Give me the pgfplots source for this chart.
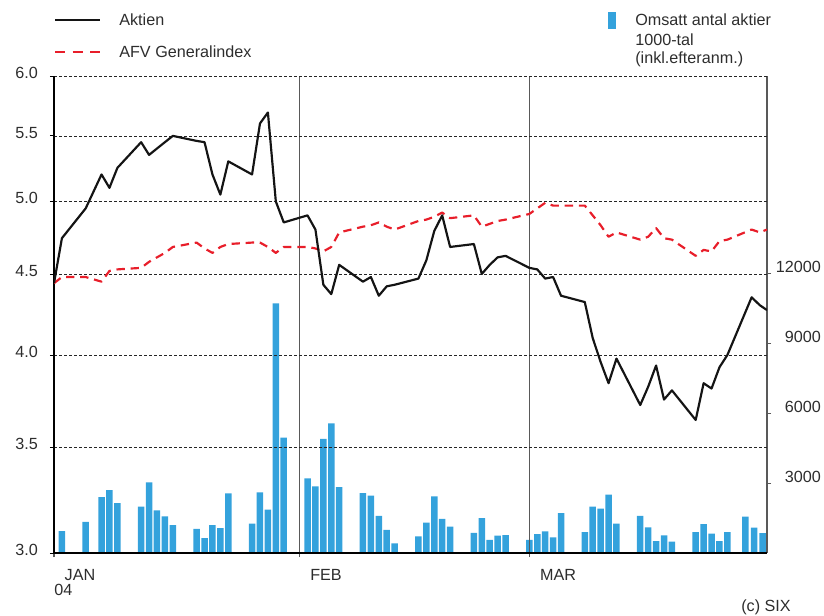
\documentclass[border=0pt]{standalone}
\usepackage{fontspec}
\setmainfont{Liberation Sans}
\usepackage{pgfplots}
\pgfplotsset{compat=1.18}
\definecolor{barblue}{RGB}{52,162,220}
\definecolor{idxred}{RGB}{232,30,42}
\definecolor{txt}{RGB}{45,45,45}
\begin{document}
\begin{tikzpicture}[font=\fontsize{9.7pt}{11.6pt}\selectfont, text=txt]
\useasboundingbox (0,0) rectangle (494.4pt,-369pt);
% ---- volume bars (right axis)
\begin{axis}[
  at={(32.4pt,-331.8pt)}, anchor=south west,
  width=427.8pt, height=286.2pt, scale only axis,
  xmin=0, xmax=90, ymin=0, ymax=20443,
  hide x axis, axis y line*=right,
  scaled y ticks=false,
  ytick={3000,6000,9000,12000}, yticklabels={3000,6000,9000,12000},
  /pgf/number format/assume math mode=true,
  tick align=outside, major tick length=2.5pt,
  y axis line style={black!65, line width=0.7pt},
  ytick style={black!65, line width=0.5pt},
  yticklabel style={anchor=east, xshift=33.3pt, yshift=3.5pt, font=\fontsize{9.7pt}{11.6pt}\selectfont, text=txt},
]
\addplot[ybar, bar width=0.82, bar shift=0pt, fill=barblue, draw=none] coordinates {
(1,940)(4,1330)(6,2390)(7,2700)(8,2140)(11,1990)(12,3030)(13,1830)(14,1570)(15,1200)
(18,1030)(19,640)(20,1190)(21,1070)(22,2560)(25,1260)(26,2600)(27,1860)(28,10700)(29,4940)
(32,3200)(33,2860)(34,4890)(35,5560)(36,2820)(39,2570)(40,2460)(41,1590)(42,990)(43,410)
(46,710)(47,1300)(48,2430)(49,1460)(50,1130)(53,860)(54,1490)(55,560)(56,740)(57,770)
(60,560)(61,810)(62,930)(63,670)(64,1710)(67,890)(68,1990)(69,1900)(70,2500)(71,1260)
(74,1590)(75,1100)(76,510)(77,760)(78,490)(81,890)(82,1240)(83,830)(84,510)(85,900)
(87.26,1556)(88.36,1086)(89.45,857)
};
\end{axis}
% ---- price lines (left log axis)
\begin{axis}[
  at={(32.4pt,-331.8pt)}, anchor=south west,
  width=427.8pt, height=286.2pt, scale only axis,
  xmin=0, xmax=90, ymode=log, ymin=3, ymax=6,
  axis x line*=bottom, axis y line*=left,
  xtick={0,31,60}, xticklabels={JAN,FEB,MAR},
  ytick={3,3.5,4,4.5,5,5.5,6}, yticklabels={3.0,3.5,4.0,4.5,5.0,5.5,6.0},
  /pgf/number format/assume math mode=true,
  xmajorgrids, ymajorgrids,
  x grid style={black!65, line width=0.7pt, solid},
  y grid style={black!85, line width=0.45pt, dash pattern=on 1.8pt off 1.2pt},
  tick align=outside, major tick length=2.5pt,
  axis line style={black, line width=0.7pt},
  xtick style={black!65, line width=0.7pt},
  ytick style={black, line width=0.5pt},
  tick label style={font=\fontsize{9.7pt}{11.6pt}\selectfont, text=txt},
  xticklabel style={anchor=north west, xshift=2.9pt, yshift=-4.1pt},
  yticklabel style={xshift=-3.6pt, yshift=2pt},
]
\addplot[idxred, line width=1.3pt, dash pattern=on 5pt off 3.5pt, line join=round] coordinates {
(0,4.44)(1,4.48)(4,4.48)(6,4.45)(7,4.52)(8,4.53)(11,4.54)(12,4.58)(13,4.61)(14,4.64)(15,4.68)
(18,4.71)(19,4.67)(20,4.64)(21,4.68)(22,4.70)(25,4.71)(26,4.71)(27,4.68)(28,4.64)(29,4.68)
(32,4.68)(33,4.67)(34,4.65)(35,4.68)(36,4.78)(39,4.82)(40,4.83)(41,4.85)(42,4.82)(43,4.80)
(46,4.86)(47,4.87)(48,4.89)(49,4.92)(50,4.88)(53,4.90)(54,4.82)(55,4.84)(56,4.86)(57,4.87)
(60,4.91)(61,4.95)(62,4.99)(63,4.97)(64,4.97)(67,4.97)(68,4.90)(69,4.83)(70,4.75)(71,4.78)
(74,4.73)(75,4.75)(76,4.81)(77,4.74)(78,4.73)(81,4.62)(82,4.66)(83,4.65)(84,4.72)(85,4.73)
(88.06,4.80)(89.1,4.78)(90,4.80)
};
\addplot[black!92, line width=1.3pt, line join=round] coordinates {
(0,4.44)(1,4.74)(4,4.95)(6,5.20)(7,5.10)(8,5.25)(11,5.45)(12,5.35)(13,5.40)(14,5.45)(15,5.50)
(18,5.46)(19,5.45)(20,5.20)(21,5.05)(22,5.30)(25,5.20)(26,5.60)(27,5.69)(28,5.00)(29,4.85)
(32,4.90)(33,4.80)(34,4.43)(35,4.37)(36,4.56)(39,4.45)(40,4.48)(41,4.36)(42,4.42)(43,4.43)
(46,4.47)(47,4.59)(48,4.79)(49,4.90)(50,4.68)(53,4.70)(54,4.50)(55,4.56)(56,4.61)(57,4.62)
(60,4.54)(61,4.53)(62,4.47)(63,4.48)(64,4.36)(67,4.32)(68,4.10)(69,3.96)(70,3.84)(71,3.98)
(74,3.72)(75,3.82)(76,3.94)(77,3.75)(78,3.80)(81,3.64)(82,3.84)(83,3.81)(84,3.93)(85,4.00)
(88.06,4.35)(89.1,4.30)(90,4.27)
};
\end{axis}
% ---- legend and notes (pixel coordinates of the 824x615 layout)
\begin{scope}[x=0.6pt, y=-0.6pt]
\draw[black!92, line width=1.3pt] (55,20) -- (100,20);
\node[anchor=base west, inner sep=0] at (119,26) {Aktien};
\draw[idxred, line width=1.3pt, dash pattern=on 6pt off 4.5pt] (55,52) -- (101,52);
\node[anchor=base west, inner sep=0] at (119,57.5) {AFV Generalindex};
\fill[barblue] (608,12) rectangle (616,29);
\node[anchor=base west, inner sep=0] at (635,26) {Omsatt antal aktier};
\node[anchor=base west, inner sep=0] at (635,45) {1000-tal};
\node[anchor=base west, inner sep=0] at (635,63.5) {(inkl.efteranm.)};
\node[anchor=base west, inner sep=0] at (54,595) {04};
\node[anchor=base west, inner sep=0] at (741,611) {(c) SIX};
\end{scope}
\end{tikzpicture}
\end{document}
